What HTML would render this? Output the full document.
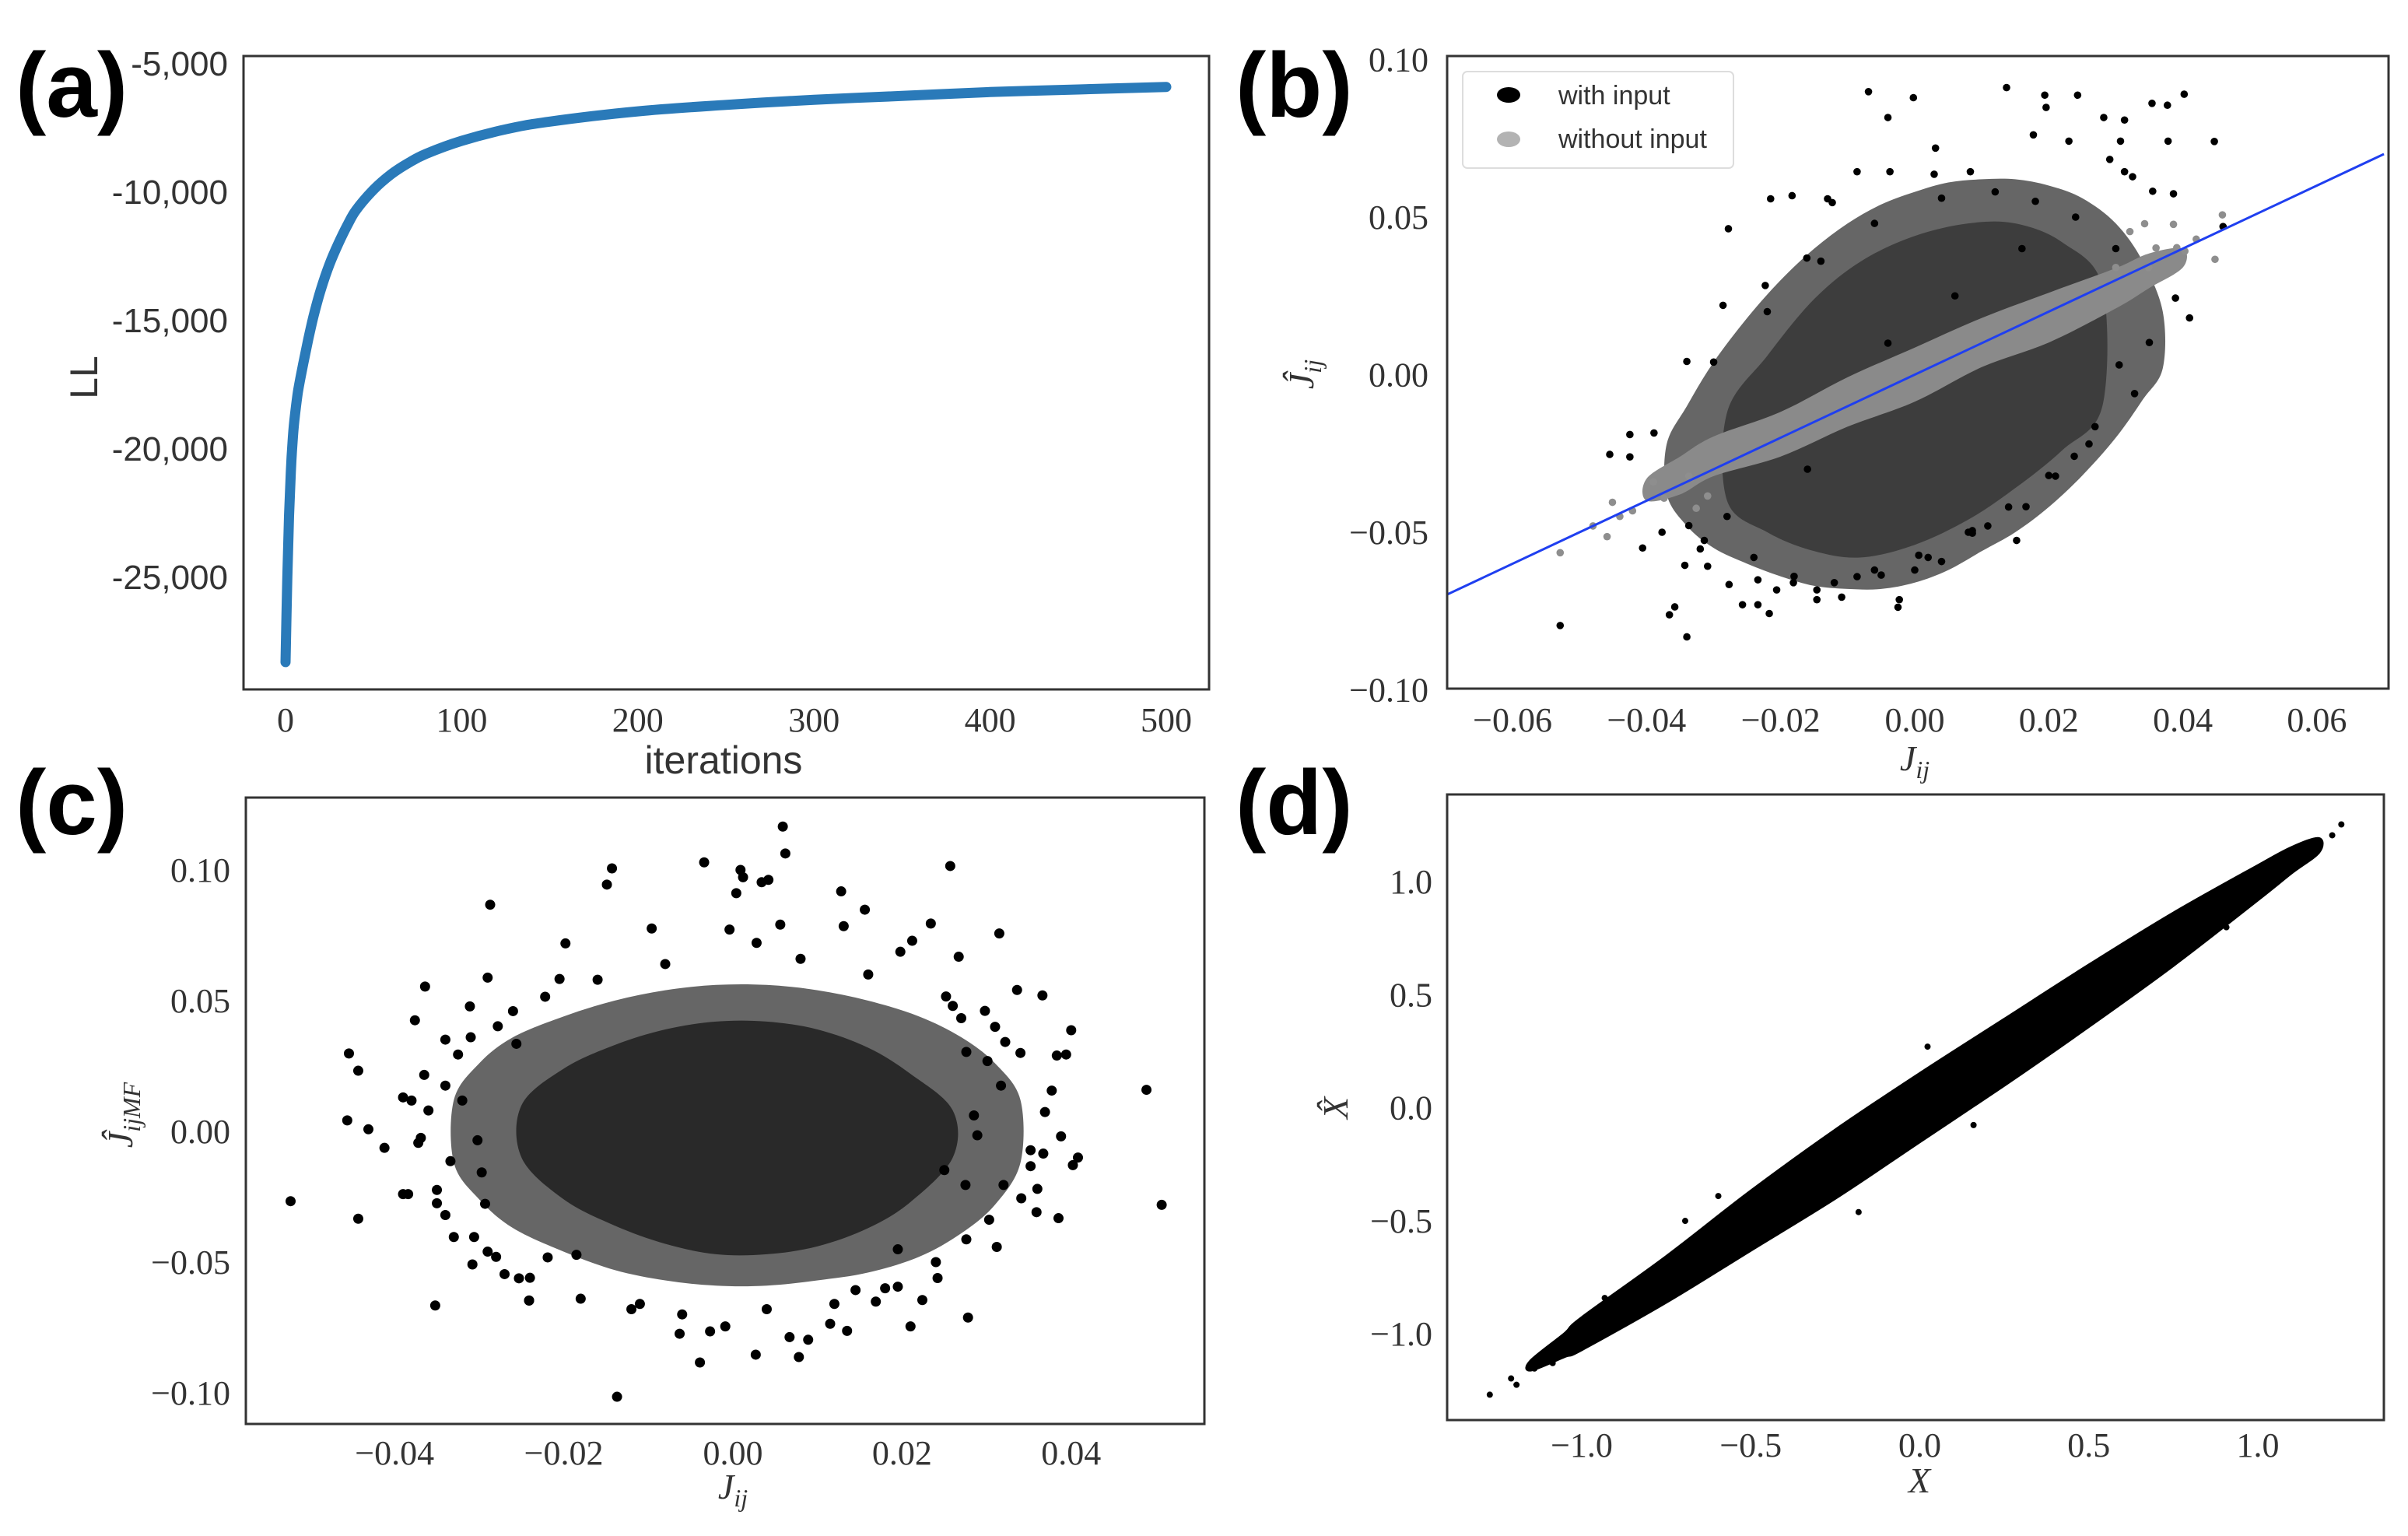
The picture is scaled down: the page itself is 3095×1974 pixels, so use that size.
<!DOCTYPE html>
<html><head><meta charset="utf-8"><style>
html,body{margin:0;padding:0;background:#fff;}
svg{display:block;}
text{font-family:"Liberation Serif",serif;fill:#333;}
.sans{font-family:"Liberation Sans",sans-serif;}
.lbl{font-family:"Liberation Sans",sans-serif;font-weight:bold;fill:#000;font-size:118px;}
</style></head><body>
<svg id="fig" width="3095" height="1974" viewBox="0 0 3095 1974" xmlns="http://www.w3.org/2000/svg">
<defs>
<clipPath id="clipB"><rect x="1860" y="72" width="1210" height="813"/></clipPath>
<clipPath id="clipC"><rect x="316" y="1025" width="1232" height="805"/></clipPath>
<clipPath id="clipD"><rect x="1860" y="1021" width="1204" height="804"/></clipPath>
</defs>
<text class="lbl" x="20" y="150">(a)</text>
<text class="lbl" x="1588" y="150">(b)</text>
<text class="lbl" x="20" y="1072">(c)</text>
<text class="lbl" x="1588" y="1072">(d)</text>
</svg>
<script>
// ---- Panel (a) data ----
const aIter = [0,1,2,3,4,5,7,10,13,16,20,25,30,35,40,50,60,70,80,100,125,150,200,250,300,350,400,450,500];
const aLL = [-28300,-25000,-22600,-20900,-19700,-18900,-17800,-16700,-15700,-14800,-13800,-12800,-12000,-11300,-10700,-9900,-9300,-8850,-8500,-8000,-7550,-7250,-6850,-6600,-6400,-6250,-6100,-6000,-5900];
const aXTicks = [0,100,200,300,400,500];
const aYTicks = [-5000,-10000,-15000,-20000,-25000];
const aYTickLabels = ["-5,000","-10,000","-15,000","-20,000","-25,000"];

// ---- Panel (b) data ----
const bBlackX = [-0.0529,-0.034,-0.0366,-0.0358,-0.0406,-0.0455,-0.0425,-0.0425,-0.0389,-0.0377,-0.034,-0.0286,-0.0278,-0.0223,-0.0215,-0.0183,-0.013,-0.0123,-0.0161,-0.0086,-0.0037,-0.0069,-0.0002,-0.004,0.0031,0.0029,0.0083,0.0137,0.0194,0.0196,0.0243,0.0177,0.023,0.0282,0.0313,0.0307,0.0354,0.0377,0.0378,0.0402,0.0447,0.0313,0.0325,0.0291,0.0355,0.0386,0.046,0.0389,0.041,0.035,0.0328,0.0305,0.0269,0.0238,0.021,0.0166,0.0152,0.0086,0.004,0.0006,0,-0.0023,-0.0025,-0.005,-0.0086,-0.0109,-0.0146,-0.0146,-0.0181,-0.0206,-0.0234,-0.0217,-0.0257,-0.0234,-0.0309,-0.0277,-0.0343,-0.0314,-0.0337,-0.032,0.0086,0.0109,-0.028,-0.024,-0.018,-0.012,-0.006,0.002,0.008,0.014,0.02,0.026,-0.03,-0.022,-0.014,-0.006,0.004,0.012,0.018,0.024,0.03,-0.016,-0.004,0.006,0.016];
const bBlackY = [-0.0796,-0.0832,-0.0762,-0.0737,-0.055,-0.0253,-0.0261,-0.0190,-0.0185,-0.05,0.0042,0.022,0.0463,0.0283,0.0558,0.0568,0.0558,0.0546,0.037,0.0644,0.0644,0.0898,0.0879,0.0816,0.0719,0.0636,0.0644,0.0911,0.0887,0.0848,0.0887,0.0761,0.0741,0.0816,0.0808,0.0741,0.0861,0.0855,0.0741,0.089,0.074,0.0644,0.0628,0.0683,0.0582,0.0574,0.047,0.0243,0.018,0.0102,-0.006,0.0031,-0.0165,-0.0259,-0.0322,-0.0419,-0.0526,-0.0503,-0.0593,-0.0573,-0.062,-0.0714,-0.0738,-0.0636,-0.0641,-0.0706,-0.0714,-0.0683,-0.066,-0.0683,-0.0730,-0.0758,-0.0730,-0.0651,-0.0608,-0.0666,-0.0605,-0.0526,-0.0479,-0.0553,-0.0495,-0.048,-0.045,-0.058,-0.064,-0.066,-0.062,-0.058,-0.05,-0.042,-0.032,-0.022,0.004,0.02,0.036,0.048,0.056,0.058,0.055,0.05,0.04,-0.03,0.01,0.025,0.04];
const bGrayX = [-0.0529,-0.0459,-0.0451,-0.0421,-0.039,-0.0374,-0.0337,-0.0326,-0.0309,0.0459,0.0448,0.0391,0.0403,0.0343,0.0386,0.036,0.0349,0.0321,-0.048,-0.044,0.042,0.03];
const bGrayY = [-0.0565,-0.0514,-0.0405,-0.0432,-0.034,-0.0392,-0.0322,-0.0424,-0.0385,0.0507,0.0366,0.0403,0.0392,0.0479,0.0477,0.0402,0.034,0.0454,-0.048,-0.045,0.043,0.034];
const bGrayBandX = [-0.04,-0.035,-0.03,-0.02,-0.01,0,0.01,0.02,0.03,0.035,0.04];
const bGrayBandLo = [-0.04,-0.038,-0.0322,-0.026,-0.0165,-0.0086,0.0024,0.0102,0.021,0.0275,0.034];
const bGrayBandHi = [-0.033,-0.026,-0.0196,-0.0118,-0.0008,0.0086,0.018,0.026,0.0338,0.0385,0.04];
const bCloudOuterX = [-0.037,-0.034,-0.03,-0.025,-0.02,-0.015,-0.01,-0.005,0,0.005,0.01,0.015,0.02,0.025,0.03,0.034,0.037];
const bCloudOuterLo = [-0.038,-0.048,-0.055,-0.06,-0.064,-0.067,-0.068,-0.068,-0.066,-0.062,-0.056,-0.05,-0.042,-0.032,-0.02,-0.008,0.002];
const bCloudOuterHi = [-0.022,-0.01,0.004,0.018,0.03,0.04,0.048,0.054,0.058,0.061,0.062,0.062,0.06,0.056,0.048,0.036,0.02];
const bCloudInnerX = [-0.028,-0.022,-0.015,-0.008,0,0.008,0.015,0.022,0.028];
const bCloudInnerLo = [-0.04,-0.05,-0.056,-0.058,-0.054,-0.046,-0.036,-0.024,-0.01];
const bCloudInnerHi = [-0.012,0.006,0.024,0.036,0.044,0.048,0.048,0.042,0.028];
const bLine = [-0.07,0.07];
const bXTicks = [-0.06,-0.04,-0.02,0,0.02,0.04,0.06];
const bXTickLabels = ["\u22120.06","\u22120.04","\u22120.02","0.00","0.02","0.04","0.06"];
const bYTicks = [0.10,0.05,0,-0.05,-0.10];
const bYTickLabels = ["0.10","0.05","0.00","\u22120.05","\u22120.10"];

// ---- Panel (c) data ----
const cX = [-0.0523,-0.0454,-0.0443,-0.0456,-0.0431,-0.0412,-0.0443,-0.039,-0.0384,-0.039,-0.038,-0.0376,-0.0364,-0.0365,-0.0372,-0.0369,-0.035,-0.035,-0.0352,-0.034,-0.034,-0.0334,-0.034,-0.0325,-0.032,-0.0311,-0.0306,-0.0308,-0.0302,-0.0297,-0.0293,-0.029,-0.0287,-0.0278,-0.027,-0.0253,-0.0241,-0.0256,-0.0222,-0.0198,-0.0205,-0.0219,-0.0185,-0.0143,-0.0149,-0.0096,-0.0137,-0.011,-0.0063,-0.0039,-0.0027,-0.0009,-0.0034,0.0009,0.0012,0.0034,0.0042,0.0004,-0.0004,0.0028,0.0059,0.0062,0.0056,0.0027,0.0078,0.0067,0.0089,0.0115,0.0135,0.0128,0.0131,0.0156,0.0198,0.0212,0.0234,0.0257,0.0267,0.0252,0.0315,0.0336,0.0366,0.04,0.0394,0.0383,0.0377,0.0369,0.0388,0.0352,0.0367,0.0352,0.0408,0.0402,0.0489,0.0507,0.0359,0.0385,0.0341,0.0312,0.0278,0.021,0.0195,0.0224,0.0169,0.0145,0.0195,0.0242,0.0276,0.0303,0.032,0.0317,0.0301,0.0322,0.0298,0.027,0.0276,0.0285,0.0289,0.0275,0.025,-0.0241,-0.033,-0.028,-0.024,-0.018,-0.012,-0.006,0.004,0.012,0.018,0.024,-0.031,-0.026,-0.016,-0.008,0.008,0.016,0.026,0.034,-0.036,-0.029,0.036,0.031];
const cY = [-0.0267,0.0298,0.0232,0.0042,0.0008,-0.0063,-0.0334,-0.024,-0.024,0.013,0.0118,0.0425,0.0554,0.0216,-0.0044,-0.0025,-0.0224,-0.0275,-0.0666,0.0351,0.0175,-0.0114,-0.032,0.0294,0.0118,0.0478,-0.0404,-0.0509,-0.0034,-0.0157,-0.0277,0.0588,0.0867,0.0402,-0.0546,-0.0562,-0.0647,0.0335,0.0515,0.0719,0.0583,-0.0482,-0.0472,0.1006,0.0944,0.0776,-0.1015,-0.066,-0.0774,-0.0884,-0.0765,-0.0746,0.1029,0.1,0.0972,0.0953,0.0962,0.0911,0.0772,0.0721,0.1166,0.1063,0.0791,-0.0854,-0.0863,-0.0787,-0.0797,-0.0736,-0.0763,0.0918,0.0785,0.0848,0.0687,0.0729,0.0795,0.1015,0.0668,0.0516,0.0757,0.0541,0.052,0.0387,0.0294,0.029,0.0156,0.0074,-0.0019,-0.0072,-0.0085,-0.0133,-0.01,-0.0129,0.0159,-0.0281,-0.0309,-0.0332,-0.0256,-0.0442,-0.0712,-0.0746,-0.0594,-0.0645,-0.0651,-0.0607,-0.0451,-0.0561,-0.0413,-0.0338,-0.0205,0.0175,0.0269,0.0342,0.0461,0.0433,0.0304,0.0061,-0.0015,-0.0205,-0.0148,-0.0647,-0.0404,-0.048,-0.056,-0.064,-0.068,-0.07,-0.068,-0.066,-0.06,-0.05,0.036,0.046,0.058,0.064,0.066,0.06,0.048,0.03,0.008,-0.046,-0.022,0.04];
const cCoreOuterX = [-0.033,-0.03,-0.026,-0.02,-0.014,-0.008,-0.002,0.004,0.01,0.016,0.022,0.027,0.031,0.034];
const cCoreOuterLo = [-0.012,-0.026,-0.037,-0.046,-0.053,-0.057,-0.059,-0.059,-0.057,-0.054,-0.048,-0.039,-0.028,-0.012];
const cCoreOuterHi = [0.012,0.026,0.036,0.044,0.05,0.054,0.056,0.056,0.054,0.05,0.044,0.036,0.026,0.012];
const cCoreInnerX = [-0.025,-0.02,-0.014,-0.008,-0.002,0.004,0.01,0.016,0.021,0.026];
const cCoreInnerLo = [-0.01,-0.026,-0.036,-0.043,-0.047,-0.047,-0.044,-0.037,-0.027,-0.01];
const cCoreInnerHi = [0.01,0.024,0.033,0.039,0.042,0.042,0.039,0.032,0.022,0.008];
const cXTicks = [-0.04,-0.02,0,0.02,0.04];
const cXTickLabels = ["\u22120.04","\u22120.02","0.00","0.02","0.04"];
const cYTicks = [0.10,0.05,0,-0.05,-0.10];
const cYTickLabels = ["0.10","0.05","0.00","\u22120.05","\u22120.10"];

// ---- Panel (d) data ----
const dBandX = [-1.15,-1.05,-1.0,-0.75,-0.5,-0.25,0,0.25,0.5,0.75,1.0,1.1,1.18];
const dBandLo = [-1.16,-1.1,-1.07,-0.86,-0.63,-0.4,-0.15,0.1,0.36,0.63,0.92,1.04,1.13];
const dBandHi = [-1.12,-1.0,-0.93,-0.66,-0.37,-0.1,0.15,0.39,0.63,0.86,1.07,1.15,1.19];
const dX = [-1.272,-1.209,-1.193,-1.14,-1.086,-1.086,-1.068,-1.027,-1.0,-0.932,1.247,1.22,1.168,1.138,1.088,1.032,0.907,-0.694,-0.596,0.023,-0.181,0.159,-0.85,-0.8,0.85,0.95,-0.96,1.18];
const dY = [-1.27,-1.198,-1.226,-1.154,-1.13,-1.064,-1.031,-1.024,-0.99,-0.842,1.253,1.205,1.161,1.132,1.099,1.015,0.798,-0.501,-0.391,0.27,-0.462,-0.077,-0.78,-0.86,0.92,0.9,-1.0,1.15];
const dXTicks = [-1.0,-0.5,0,0.5,1.0];
const dXTickLabels = ["\u22121.0","\u22120.5","0.0","0.5","1.0"];
const dYTicks = [1.0,0.5,0,-0.5,-1.0];
const dYTickLabels = ["1.0","0.5","0.0","\u22120.5","\u22121.0"];

// ---- axis functions ----
const xA = v => 367 + v*(1499-367)/500;
const yA = v => 82 + (-5000 - v)/5000*165;
const xB = v => 2461 + v*8615;
const yB = v => 481.5 - v*4050;
const xC = v => 942 + v*10870;
const yC = v => 1454 - v*3360;
const xD = v => 2467.5 + v*434.5;
const yD = v => 1423.5 - v*290.5;

const NS = "http://www.w3.org/2000/svg";
const svg = document.getElementById('fig');
function mk(tag, attrs, parent){
  const e = document.createElementNS(NS, tag);
  for (const k in attrs) e.setAttribute(k, attrs[k]);
  (parent||svg).appendChild(e);
  return e;
}
function group(clip){
  return mk('g', clip ? {'clip-path':'url(#'+clip+')'} : {});
}
function smoothClosed(pts){
  const n = pts.length;
  let d = 'M'+pts[0][0].toFixed(1)+','+pts[0][1].toFixed(1);
  for (let i=0;i<n;i++){
    const p0=pts[(i-1+n)%n], p1=pts[i], p2=pts[(i+1)%n], p3=pts[(i+2)%n];
    const c1=[p1[0]+(p2[0]-p0[0])/6, p1[1]+(p2[1]-p0[1])/6];
    const c2=[p2[0]-(p3[0]-p1[0])/6, p2[1]-(p3[1]-p1[1])/6];
    d += 'C'+c1[0].toFixed(1)+','+c1[1].toFixed(1)+' '+c2[0].toFixed(1)+','+c2[1].toFixed(1)+' '+p2[0].toFixed(1)+','+p2[1].toFixed(1);
  }
  return d+'Z';
}
function smoothOpen(pts){
  const n = pts.length;
  let d = 'M'+pts[0][0].toFixed(1)+','+pts[0][1].toFixed(1);
  for (let i=0;i<n-1;i++){
    const p0=pts[Math.max(i-1,0)], p1=pts[i], p2=pts[i+1], p3=pts[Math.min(i+2,n-1)];
    const c1=[p1[0]+(p2[0]-p0[0])/6, p1[1]+(p2[1]-p0[1])/6];
    const c2=[p2[0]-(p3[0]-p1[0])/6, p2[1]-(p3[1]-p1[1])/6];
    d += 'C'+c1[0].toFixed(1)+','+c1[1].toFixed(1)+' '+c2[0].toFixed(1)+','+c2[1].toFixed(1)+' '+p2[0].toFixed(1)+','+p2[1].toFixed(1);
  }
  return d;
}
function bandPath(xs, lo, hi, fx, fy){
  const pts = [];
  xs.forEach((x,i)=>pts.push([fx(x), fy(hi[i])]));
  for (let i=xs.length-1;i>=0;i--) pts.push([fx(xs[i]), fy(lo[i])]);
  return smoothClosed(pts);
}
function frame(x,y,w,h,name){
  const r = mk('rect',{x:x,y:y,width:w,height:h,fill:'none',stroke:'#333','stroke-width':3});
  
  
}
function xTicks(ticks, labels, fx, y, name, cls){
  ticks.forEach((t,i)=>{
    const tx = mk('text',{x:fx(t),y:y,'text-anchor':'middle','font-size':44});
    if (cls) tx.setAttribute('class', cls);
    tx.textContent = labels[i];
    
    
  });
}
function yTicks(ticks, labels, fy, x, name, cls){
  ticks.forEach((t,i)=>{
    const tx = mk('text',{x:x,y:fy(t)+15,'text-anchor':'end','font-size':44});
    if (cls) tx.setAttribute('class', cls);
    tx.textContent = labels[i];
    
    
  });
}

// ---- Panel (a) ----
frame(313,72,1241,814,'panel-a-frame');
const lineA = mk('path',{d:smoothOpen(aIter.map((v,i)=>[xA(v), yA(aLL[i])])),fill:'none',stroke:'#2a7ab9','stroke-width':13,'stroke-linecap':'round','stroke-linejoin':'round'});


xTicks(aXTicks, aXTicks.map(String), xA, 940, 'x-tick-label-a');
yTicks(aYTicks, aYTickLabels, yA, 293, 'y-tick-label-a', 'sans');
const axA = mk('text',{x:930,y:994,'text-anchor':'middle','font-size':50,'class':'sans'});
axA.textContent = 'iterations';


const ayA = mk('text',{x:0,y:0,'text-anchor':'middle','font-size':50,'class':'sans',transform:'translate(125,485) rotate(-90)'});
ayA.textContent = 'LL';



// ---- Panel (b) ----
const gB = group('clipB');
const bo = mk('path',{d:bandPath(bCloudOuterX,bCloudOuterLo,bCloudOuterHi,xB,yB),fill:'#000','fill-opacity':0.6},gB);


const bi = mk('path',{d:bandPath(bCloudInnerX,bCloudInnerLo,bCloudInnerHi,xB,yB),fill:'#000','fill-opacity':0.4},gB);


bBlackX.forEach((x,i)=>{
  const c = mk('circle',{cx:xB(x),cy:yB(bBlackY[i]),r:4.8,fill:'#000'},gB);
  
  
});
const gb = mk('path',{d:bandPath(bGrayBandX,bGrayBandLo,bGrayBandHi,xB,yB),fill:'#8a8a8a'},gB);


bGrayX.forEach((x,i)=>{
  const c = mk('circle',{cx:xB(x),cy:yB(bGrayY[i]),r:4.8,fill:'#8e8e8e'},gB);
  
  
});
const fitB = mk('line',{x1:xB(bLine[0]),y1:yB(bLine[0]),x2:xB(bLine[1]),y2:yB(bLine[1]),stroke:'#1f3ff0','stroke-width':3},gB);


frame(1860,72,1210,813,'panel-b-frame');
const leg = mk('rect',{x:1880,y:92,width:348,height:124,rx:6,fill:'#fff','fill-opacity':0.85,stroke:'#ddd','stroke-width':2});


const lm1 = mk('ellipse',{cx:1939,cy:122,rx:15,ry:10,fill:'#000'});


const lm2 = mk('ellipse',{cx:1939,cy:179,rx:15,ry:10,fill:'#b3b3b3'});


const lt1 = mk('text',{x:2003,y:134,'font-size':34,'class':'sans'});
lt1.textContent = 'with input';


const lt2 = mk('text',{x:2003,y:190,'font-size':34,'class':'sans'});
lt2.textContent = 'without input';


xTicks(bXTicks, bXTickLabels, xB, 940, 'x-tick-label-b');
yTicks(bYTicks, bYTickLabels, yB, 1836, 'y-tick-label-b');
const axB = mk('text',{x:2461,y:990,'text-anchor':'middle','font-size':46,'font-style':'italic'});
axB.innerHTML = 'J<tspan font-size="32" dy="10">ij</tspan>';


const ayB = mk('text',{x:0,y:0,'text-anchor':'middle','font-size':46,'font-style':'italic',transform:'translate(1688,481) rotate(-90)'});
ayB.innerHTML = '\u0134<tspan font-size="32" dy="10">ij</tspan>';



// ---- Panel (c) ----
const gC = group('clipC');
const co = mk('path',{d:bandPath(cCoreOuterX,cCoreOuterLo,cCoreOuterHi,xC,yC),fill:'#000','fill-opacity':0.6},gC);


const ci = mk('path',{d:bandPath(cCoreInnerX,cCoreInnerLo,cCoreInnerHi,xC,yC),fill:'#000','fill-opacity':0.6},gC);


cX.forEach((x,i)=>{
  const c = mk('circle',{cx:xC(x),cy:yC(cY[i]),r:6.5,fill:'#000'},gC);
  
  
});
frame(316,1025,1232,805,'panel-c-frame');
xTicks(cXTicks, cXTickLabels, xC, 1882, 'x-tick-label-c');
yTicks(cYTicks, cYTickLabels, yC, 296, 'y-tick-label-c');
const axC = mk('text',{x:942,y:1926,'text-anchor':'middle','font-size':46,'font-style':'italic'});
axC.innerHTML = 'J<tspan font-size="32" dy="10">ij</tspan>';


const ayC = mk('text',{x:0,y:0,'text-anchor':'middle','font-size':46,'font-style':'italic',transform:'translate(170,1433) rotate(-90)'});
ayC.innerHTML = '\u0134<tspan font-size="32" dy="10">ijMF</tspan>';



// ---- Panel (d) ----
const gD = group('clipD');
const db = mk('path',{d:bandPath(dBandX,dBandLo,dBandHi,xD,yD),fill:'#000',stroke:'#000','stroke-width':4,'stroke-linejoin':'round'},gD);


dX.forEach((x,i)=>{
  const c = mk('circle',{cx:xD(x),cy:yD(dY[i]),r:4,fill:'#000'},gD);
  
  
});
frame(1860,1021,1204,804,'panel-d-frame');
xTicks(dXTicks, dXTickLabels, xD, 1872, 'x-tick-label-d');
yTicks(dYTicks, dYTickLabels, yD, 1841, 'y-tick-label-d');
const axD = mk('text',{x:2467,y:1918,'text-anchor':'middle','font-size':46,'font-style':'italic'});
axD.textContent = 'X';


const ayD = mk('text',{x:0,y:0,'text-anchor':'middle','font-size':46,'font-style':'italic',transform:'translate(1732,1424) rotate(-90)'});
ayD.textContent = 'X\u0302';


</script>
</body></html>
